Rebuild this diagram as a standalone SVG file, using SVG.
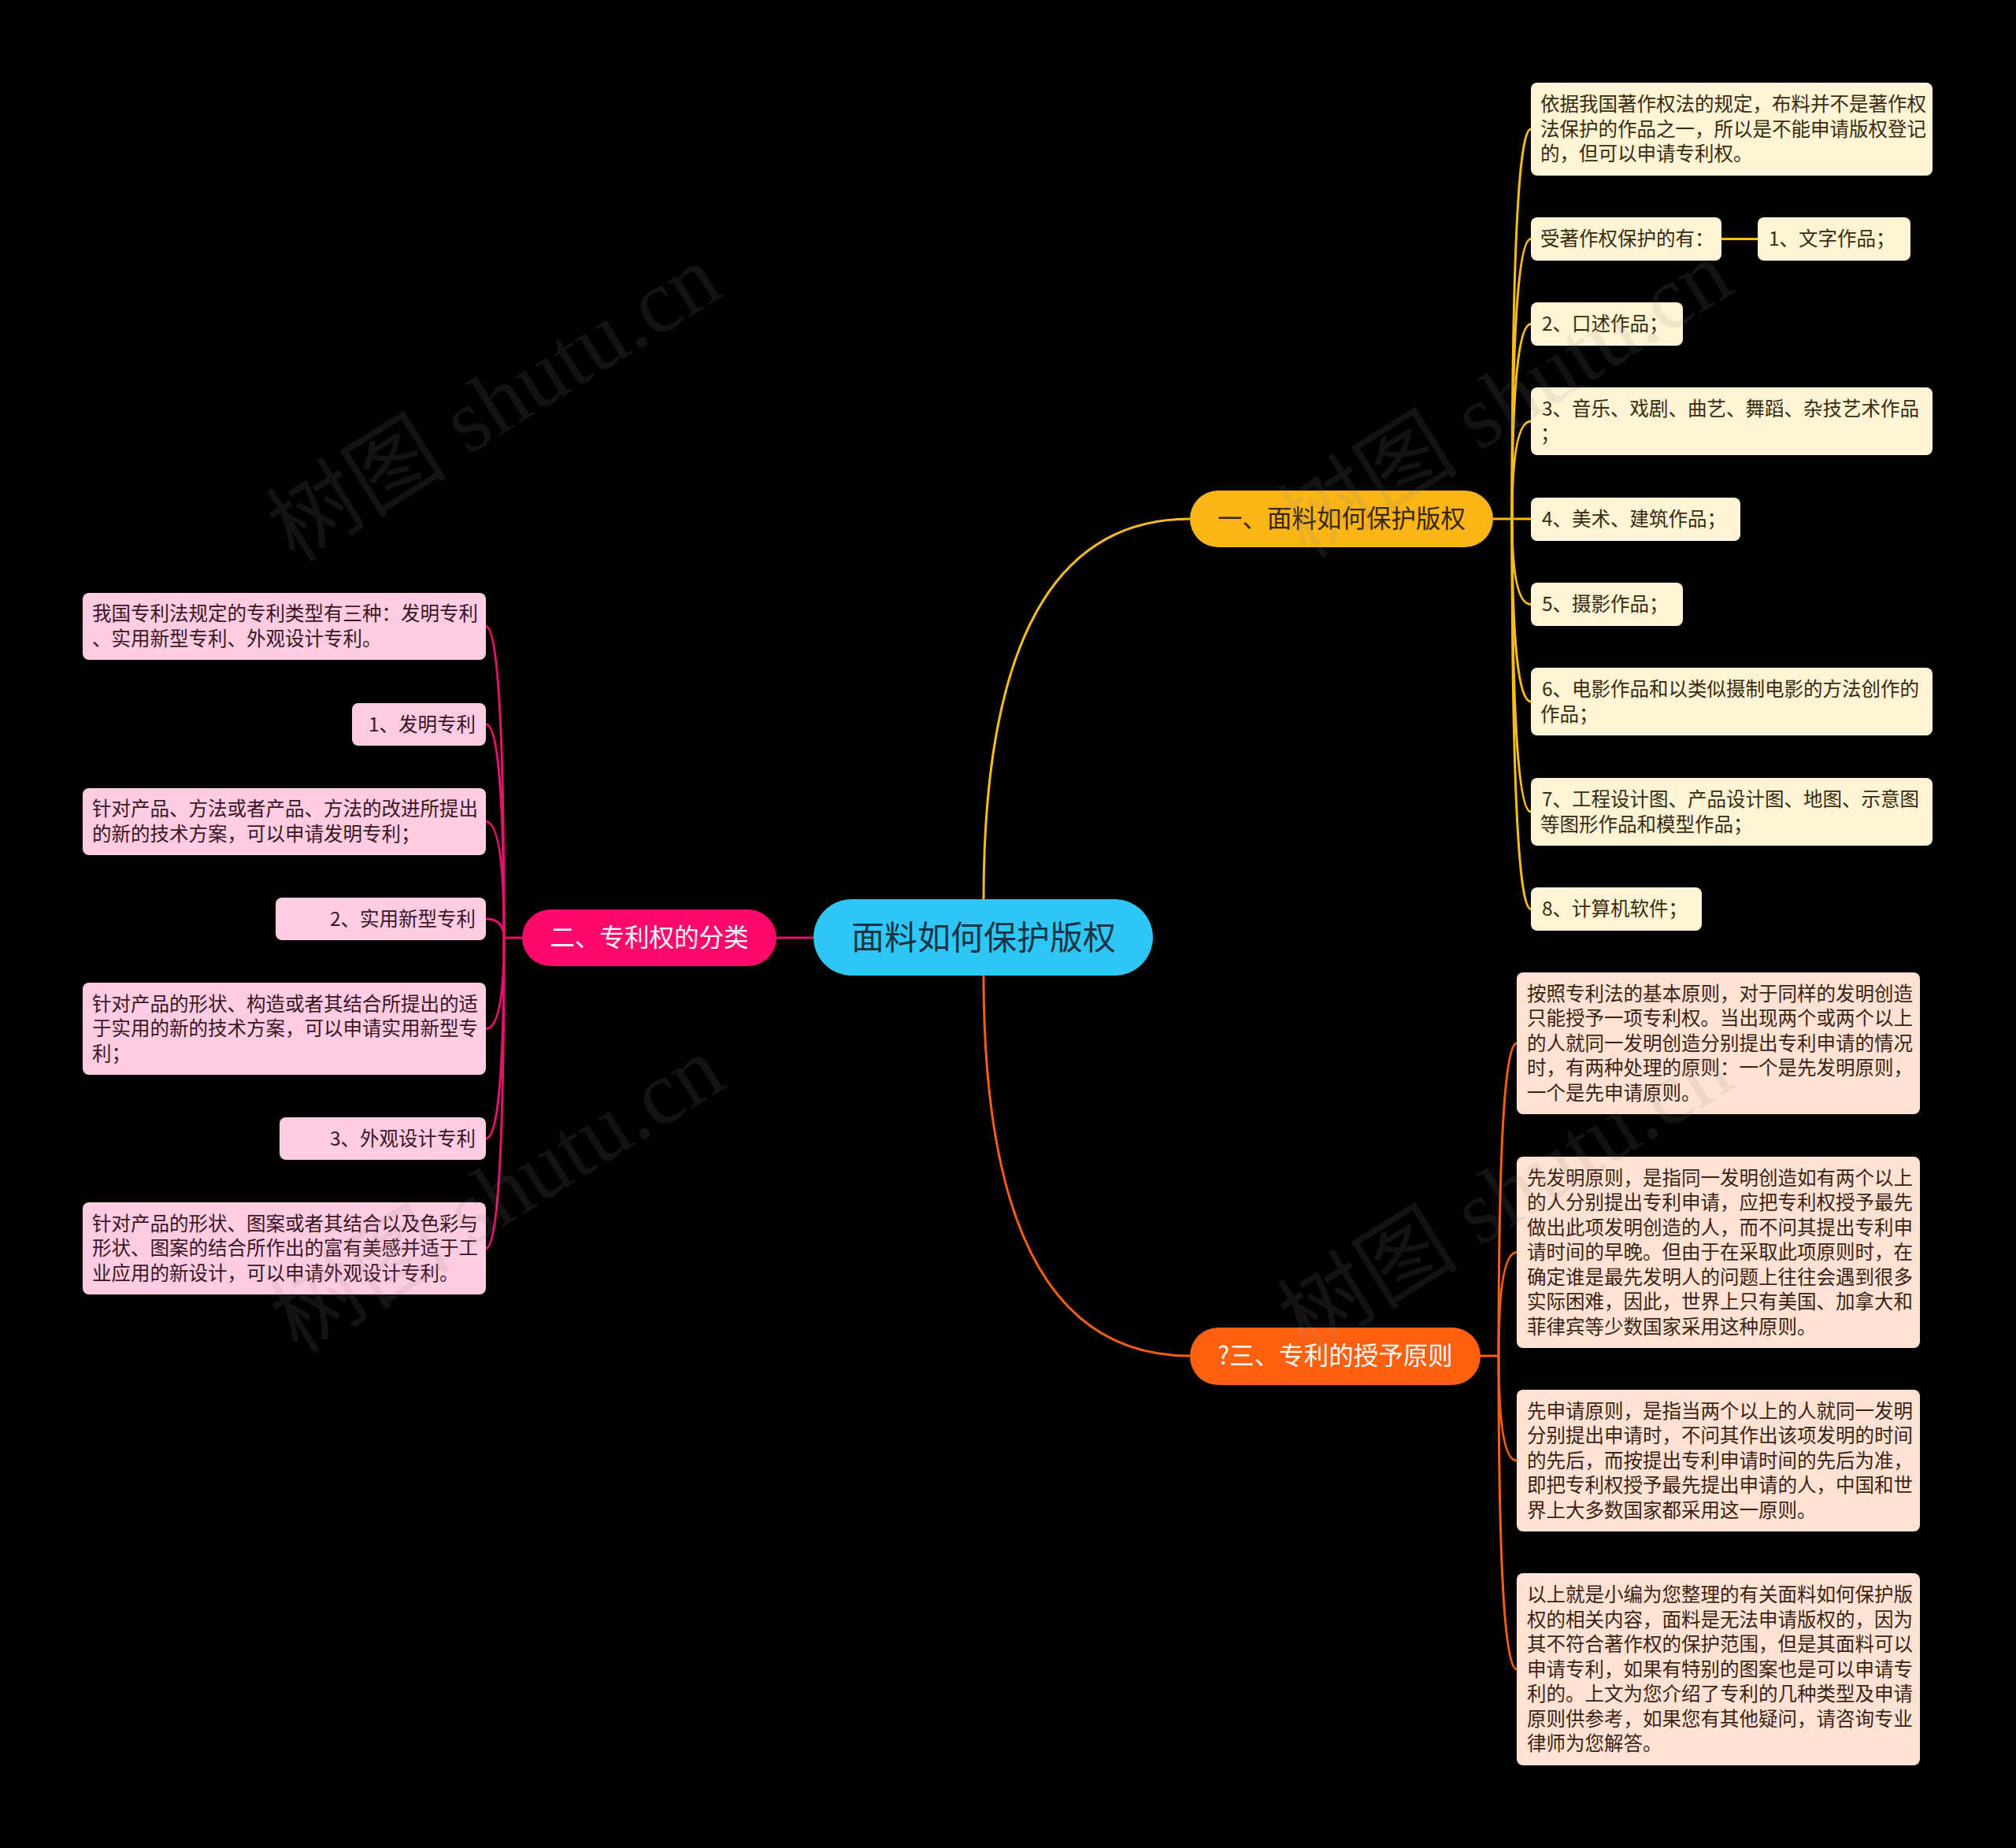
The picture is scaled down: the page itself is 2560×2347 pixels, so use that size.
<svg xmlns="http://www.w3.org/2000/svg" width="2560" height="2347" viewBox="0 0 2560 2347">
<style>
text{font-family:"Noto Sans CJK SC","Noto Sans",sans-serif;}
.leaf{font-size:24.5px;}
.yl rect{fill:#FFF5D6;}
.yl text{fill:#3A2A0C;}
.or rect{fill:#FFE2D3;}
.or text{fill:#3E1F12;}
.pk rect{fill:#FFCCE2;}
.pk text{fill:#3C1424;}
.br{font-size:31.5px;text-anchor:middle;}
.cy{fill:none;stroke:#F6BC1A;stroke-width:3;}
.co{fill:none;stroke:#F65E12;stroke-width:3;}
.cp{fill:none;stroke:#E3136C;stroke-width:3;}
.wm{font-family:"Liberation Serif","Noto Sans CJK SC",serif;font-size:115px;fill:#8a8a8a;opacity:0.14;text-anchor:middle;}
</style>
<rect x="0" y="0" width="2560" height="2347" fill="#000"/>

<g id="connectors">
<path class="cy" d="M1249 1143 Q1249 659 1511 659"/>
<path class="co" d="M1249 1239 Q1249 1722 1511 1722"/>
<path class="cp" d="M1033 1191 L986 1191"/>
<path class="cy" d="M1896 659 L1944 659"/>
<path class="cy" d="M1920 659 Q1920 164 1944 164"/>
<path class="cy" d="M1920 659 Q1920 303.5 1944 303.5"/>
<path class="cy" d="M2186 303.5 L2232 303.5"/>
<path class="cy" d="M1920 659 Q1920 411.5 1944 411.5"/>
<path class="cy" d="M1920 659 Q1920 535 1944 535"/>
<path class="cy" d="M1920 659 Q1920 767.5 1944 767.5"/>
<path class="cy" d="M1920 659 Q1920 891 1944 891"/>
<path class="cy" d="M1920 659 Q1920 1031 1944 1031"/>
<path class="cy" d="M1920 659 Q1920 1154.5 1944 1154.5"/>
<path class="co" d="M1880 1722 L1903 1722"/>
<path class="co" d="M1903 1722 Q1903 1325 1926 1325"/>
<path class="co" d="M1903 1722 Q1903 1590.5 1926 1590.5"/>
<path class="co" d="M1903 1722 Q1903 1855 1926 1855"/>
<path class="co" d="M1903 1722 Q1903 2120 1926 2120"/>
<path class="cp" d="M663 1191 L640 1191"/>
<path class="cp" d="M640 1191 Q640 795.5 617 795.5"/>
<path class="cp" d="M640 1191 Q640 920 617 920"/>
<path class="cp" d="M640 1191 Q640 1043.5 617 1043.5"/>
<path class="cp" d="M640 1191 Q640 1167 617 1167"/>
<path class="cp" d="M640 1191 Q640 1306.5 617 1306.5"/>
<path class="cp" d="M640 1191 Q640 1446 617 1446"/>
<path class="cp" d="M640 1191 Q640 1585.5 617 1585.5"/>
</g>

<g id="root">
<rect x="1033" y="1142" width="431" height="97" rx="48.5" fill="#2EC6F5"/>
<text x="1249" y="1206" font-size="42" text-anchor="middle" fill="#163444">面料如何保护版权</text>
</g>

<g id="b1">
<rect x="1511" y="623" width="385" height="72" rx="36" fill="#FBB615"/>
<text class="br" x="1703.5" y="670" fill="#3A2606">一、面料如何保护版权</text>
</g>
<g id="b2">
<rect x="663" y="1155" width="323" height="72" rx="36" fill="#FF0A6C"/>
<text class="br" x="824.5" y="1202" fill="#FFFFFF">二、专利权的分类</text>
</g>
<g id="b3">
<rect x="1511" y="1686" width="369" height="73" rx="36" fill="#FF600F"/>
<text class="br" x="1695.5" y="1733" fill="#FFFFFF">?三、专利的授予原则</text>
</g>

<g class="yl leaf">
<g id="y1"><rect x="1944" y="105" width="510" height="118" rx="8"/>
<text x="1956" y="141">依据我国著作权法的规定，布料并不是著作权</text>
<text x="1956" y="172.5">法保护的作品之一，所以是不能申请版权登记</text>
<text x="1956" y="204">的，但可以申请专利权。</text></g>
<g id="y2"><rect x="1944" y="276" width="242" height="55" rx="8"/><text x="1956" y="312">受著作权保护的有：</text></g>
<g id="y2b"><rect x="2232" y="276" width="194" height="55" rx="8"/><text x="2246" y="312">1、文字作品；</text></g>
<g id="y3"><rect x="1944" y="384" width="193" height="55" rx="8"/><text x="1958" y="420">2、口述作品；</text></g>
<g id="y4"><rect x="1944" y="492" width="510" height="86" rx="8"/>
<text x="1958" y="528">3、音乐、戏剧、曲艺、舞蹈、杂技艺术作品</text>
<text x="1956" y="559.5">；</text></g>
<g id="y5"><rect x="1944" y="632" width="266" height="55" rx="8"/><text x="1958" y="668">4、美术、建筑作品；</text></g>
<g id="y6"><rect x="1944" y="740" width="193" height="55" rx="8"/><text x="1958" y="776">5、摄影作品；</text></g>
<g id="y7"><rect x="1944" y="848" width="510" height="86" rx="8"/>
<text x="1958" y="884">6、电影作品和以类似摄制电影的方法创作的</text>
<text x="1956" y="915.5">作品；</text></g>
<g id="y8"><rect x="1944" y="988" width="510" height="86" rx="8"/>
<text x="1958" y="1024">7、工程设计图、产品设计图、地图、示意图</text>
<text x="1956" y="1055.5">等图形作品和模型作品；</text></g>
<g id="y9"><rect x="1944" y="1127" width="217" height="55" rx="8"/><text x="1958" y="1163">8、计算机软件；</text></g>
</g>

<g class="or leaf">
<g id="o1"><rect x="1926" y="1235" width="512" height="180" rx="8"/>
<text x="1939" y="1270.5">按照专利法的基本原则，对于同样的发明创造</text>
<text x="1939" y="1302">只能授予一项专利权。当出现两个或两个以上</text>
<text x="1939" y="1333.5">的人就同一发明创造分别提出专利申请的情况</text>
<text x="1939" y="1365">时，有两种处理的原则：一个是先发明原则，</text>
<text x="1939" y="1396.5">一个是先申请原则。</text></g>
<g id="o2"><rect x="1926" y="1469" width="512" height="243" rx="8"/>
<text x="1939" y="1504.5">先发明原则，是指同一发明创造如有两个以上</text>
<text x="1939" y="1536">的人分别提出专利申请，应把专利权授予最先</text>
<text x="1939" y="1567.5">做出此项发明创造的人，而不问其提出专利申</text>
<text x="1939" y="1599">请时间的早晚。但由于在采取此项原则时，在</text>
<text x="1939" y="1630.5">确定谁是最先发明人的问题上往往会遇到很多</text>
<text x="1939" y="1662">实际困难，因此，世界上只有美国、加拿大和</text>
<text x="1939" y="1693.5">菲律宾等少数国家采用这种原则。</text></g>
<g id="o3"><rect x="1926" y="1765" width="512" height="180" rx="8"/>
<text x="1939" y="1800.5">先申请原则，是指当两个以上的人就同一发明</text>
<text x="1939" y="1832">分别提出申请时，不问其作出该项发明的时间</text>
<text x="1939" y="1863.5">的先后，而按提出专利申请时间的先后为准，</text>
<text x="1939" y="1895">即把专利权授予最先提出申请的人，中国和世</text>
<text x="1939" y="1926.5">界上大多数国家都采用这一原则。</text></g>
<g id="o4"><rect x="1926" y="1998" width="512" height="244" rx="8"/>
<text x="1939" y="2034">以上就是小编为您整理的有关面料如何保护版</text>
<text x="1939" y="2065.5">权的相关内容，面料是无法申请版权的，因为</text>
<text x="1939" y="2097">其不符合著作权的保护范围，但是其面料可以</text>
<text x="1939" y="2128.5">申请专利，如果有特别的图案也是可以申请专</text>
<text x="1939" y="2160">利的。上文为您介绍了专利的几种类型及申请</text>
<text x="1939" y="2191.5">原则供参考，如果您有其他疑问，请咨询专业</text>
<text x="1939" y="2223">律师为您解答。</text></g>
</g>

<g class="pk leaf">
<g id="p1"><rect x="105" y="753" width="512" height="85" rx="8"/>
<text x="117" y="788">我国专利法规定的专利类型有三种：发明专利</text>
<text x="117" y="820">、实用新型专利、外观设计专利。</text></g>
<g id="p2"><rect x="447" y="893" width="170" height="54" rx="8"/><text x="604" y="928.5" text-anchor="end">1、发明专利</text></g>
<g id="p3"><rect x="105" y="1001" width="512" height="85" rx="8"/>
<text x="117" y="1036">针对产品、方法或者产品、方法的改进所提出</text>
<text x="117" y="1068">的新的技术方案，可以申请发明专利；</text></g>
<g id="p4"><rect x="350" y="1140" width="267" height="54" rx="8"/><text x="604" y="1175.5" text-anchor="end">2、实用新型专利</text></g>
<g id="p5"><rect x="105" y="1248" width="512" height="117" rx="8"/>
<text x="117" y="1283.5">针对产品的形状、构造或者其结合所提出的适</text>
<text x="117" y="1315">于实用的新的技术方案，可以申请实用新型专</text>
<text x="117" y="1346.5">利；</text></g>
<g id="p6"><rect x="355" y="1419" width="262" height="54" rx="8"/><text x="604" y="1454.5" text-anchor="end">3、外观设计专利</text></g>
<g id="p7"><rect x="105" y="1527" width="512" height="117" rx="8"/>
<text x="117" y="1562.5">针对产品的形状、图案或者其结合以及色彩与</text>
<text x="117" y="1594">形状、图案的结合所作出的富有美感并适于工</text>
<text x="117" y="1625.5">业应用的新设计，可以申请外观设计专利。</text></g>
</g>

<g id="watermarks">
<text class="wm" transform="translate(648 545) rotate(-32)">树图 shutu.cn</text>
<text class="wm" transform="translate(1932 540) rotate(-32)">树图 shutu.cn</text>
<text class="wm" transform="translate(652 1550) rotate(-32)">树图 shutu.cn</text>
<text class="wm" transform="translate(1932 1550) rotate(-32)">树图 shutu.cn</text>
</g>
</svg>
